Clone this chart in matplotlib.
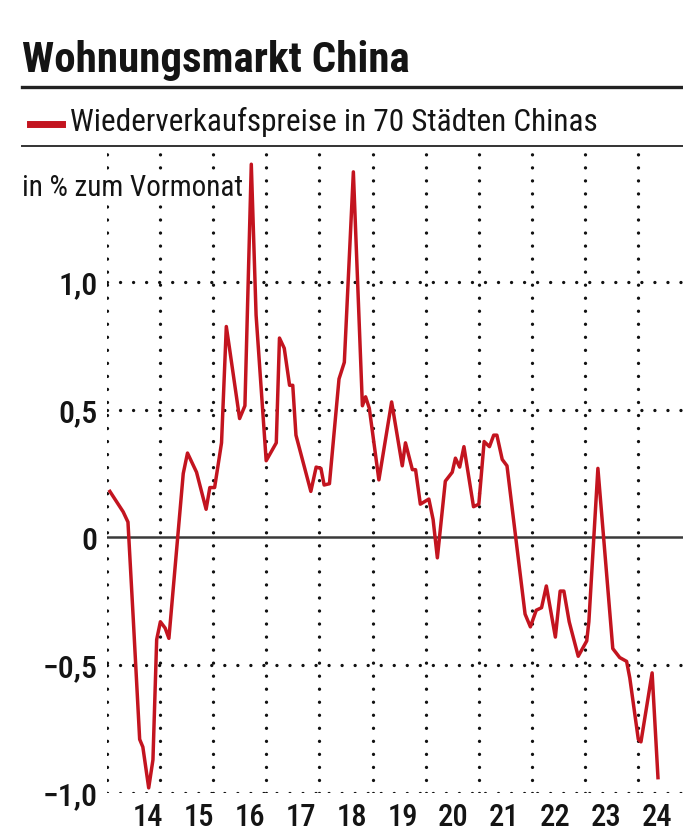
import matplotlib
matplotlib.use("Agg")
import matplotlib.pyplot as plt
from matplotlib.lines import Line2D

# ---------------- data ----------------
title = "Wohnungsmarkt China"
series_name = "Wiederverkaufspreise in 70 Städten Chinas"
unit_label = "in % zum Vormonat"
year_labels = ["14", "15", "16", "17", "18", "19", "20", "21", "22", "23", "24"]
grid_years = list(range(2014, 2025))
y_ticks = [1.0, 0.5, 0.0, -0.5, -1.0]
y_tick_labels = ["1,0", "0,5", "0", "\u22120,5", "\u22121,0"]

# time (fractional year) and month-on-month change in %
t = [2014.06, 2014.31, 2014.40, 2014.50, 2014.62, 2014.68, 2014.79, 2014.87, 2014.94,
     2015.01, 2015.10, 2015.17, 2015.44, 2015.52, 2015.69, 2015.87, 2015.94,
     2016.03, 2016.16, 2016.25, 2016.31, 2016.50, 2016.60, 2016.72, 2016.81,
     2017.00, 2017.19, 2017.25, 2017.34, 2017.44, 2017.50, 2017.56, 2017.84, 2017.94,
     2018.03, 2018.09, 2018.19, 2018.37, 2018.47, 2018.64, 2018.81, 2018.87, 2018.94,
     2019.12, 2019.36, 2019.56, 2019.62, 2019.75, 2019.81, 2019.90,
     2020.06, 2020.14, 2020.22, 2020.37, 2020.50, 2020.56, 2020.64, 2020.72, 2020.90,
     2021.00, 2021.10, 2021.20, 2021.28, 2021.34, 2021.44, 2021.53, 2021.87, 2021.97,
     2022.08, 2022.18, 2022.27, 2022.44, 2022.53, 2022.60, 2022.70, 2022.75, 2022.87,
     2023.03, 2023.07, 2023.24, 2023.52, 2023.65, 2023.78, 2023.84,
     2024.00, 2024.05, 2024.26, 2024.37]
v = [0.18, 0.10, 0.06, -0.32, -0.79, -0.82, -0.98, -0.87, -0.40,
     -0.33, -0.355, -0.395, 0.25, 0.33, 0.255, 0.11, 0.195,
     0.195, 0.37, 0.825, 0.74, 0.465, 0.515, 1.46, 0.87,
     0.30, 0.37, 0.78, 0.74, 0.595, 0.595, 0.40, 0.18, 0.275,
     0.27, 0.205, 0.21, 0.62, 0.685, 1.43, 0.515, 0.55, 0.505,
     0.225, 0.53, 0.28, 0.37, 0.265, 0.265, 0.13,
     0.15, 0.07, -0.08, 0.22, 0.255, 0.31, 0.275, 0.355, 0.12,
     0.13, 0.375, 0.355, 0.40, 0.40, 0.305, 0.28, -0.30, -0.35,
     -0.285, -0.275, -0.19, -0.39, -0.21, -0.21, -0.33, -0.37, -0.465,
     -0.405, -0.33, 0.27, -0.435, -0.47, -0.485, -0.55,
     -0.79, -0.80, -0.53, -0.94]

# ---------------- layout ----------------
W, H = 683, 833
RED = "#c3141f"
INK = "#141414"
plt.rcParams["font.family"] = ["Roboto Condensed", "DejaVu Sans"]

fig = plt.figure(figsize=(W / 100, H / 100), dpi=100)
fig.patch.set_facecolor("white")

ax_left, ax_right, ax_top, ax_bottom = 106.7, 683, 147, 793
ax = fig.add_axes([ax_left / W, 1 - ax_bottom / H, (ax_right - ax_left) / W, (ax_bottom - ax_top) / H])
px_per_year = 53.16
px_per_unit = 255.6
ax.set_xlim(2014, 2014 + (ax_right - ax_left) / px_per_year)
ax.set_ylim(-1.0, -1.0 + (ax_bottom - ax_top) / px_per_unit)
ax.axis("off")

dot = dict(color="#111111", linewidth=2.4, linestyle=(0, (0.01, 3.9)), dash_capstyle="round", zorder=1)
for yr in grid_years:
    ax.axvline(yr, **dot)
for yv in y_ticks:
    if yv != 0:
        ax.axhline(yv, **dot)
ax.axhline(0, color="#3a3a3a", linewidth=1.8, zorder=2)

ax.plot(t, v, color=RED, linewidth=2.5, solid_joinstyle="round", zorder=4)

# y tick labels
for yv, lab in zip(y_ticks, y_tick_labels):
    ax.text(-9 / (ax_right - ax_left), yv - 0.015, lab, transform=ax.get_yaxis_transform(),
            ha="right", va="center", fontsize=23, fontweight="medium", color=INK)

# x labels
for i, lab in enumerate(year_labels):
    px = 148 + 50.9 * i
    xt = 2014 + (px - ax_left) / px_per_year
    ax.text(xt, -(832 - ax_bottom) / (ax_bottom - ax_top), lab, transform=ax.get_xaxis_transform(),
            ha="center", va="bottom", fontsize=22, fontweight="medium", color=INK)

# header
fig.text(22 / W, 1 - 72 / H, title, ha="left", va="baseline", fontsize=31, fontweight="bold", color=INK)
fig.add_artist(Line2D([22 / W, 1], [1 - 87 / H] * 2, color="#222222", linewidth=2.4))
fig.add_artist(Line2D([30 / W, 62 / W], [1 - 124 / H] * 2, color=RED, linewidth=5))
fig.text(70 / W, 1 - 122 / H, series_name, ha="left", va="center", fontsize=22.5, color=INK)
fig.add_artist(Line2D([22 / W, 1], [1 - 146 / H] * 2, color="#333333", linewidth=1.4))
ax.text(22 / W, 1 - 188 / H, unit_label, transform=fig.transFigure, ha="left", va="center",
        fontsize=21, color=INK, zorder=3,
        bbox=dict(facecolor="white", edgecolor="none", pad=2))

fig.savefig("out.png", dpi=100, facecolor="white")
